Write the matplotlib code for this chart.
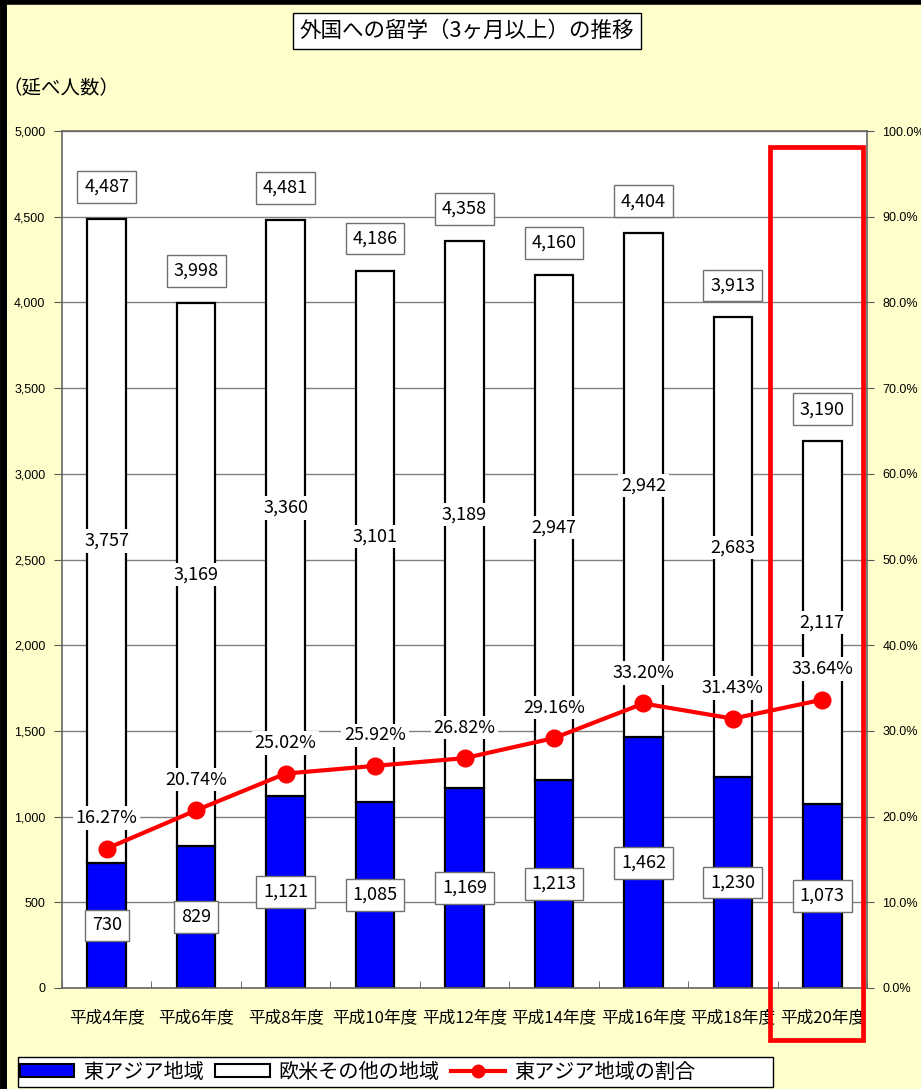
import matplotlib
matplotlib.use("Agg")
import matplotlib.pyplot as plt
import matplotlib.patches as mpatches
import matplotlib.transforms as mtransforms
from matplotlib.lines import Line2D
from matplotlib.ticker import FuncFormatter, MultipleLocator
import numpy as np

plt.rcParams['font.family'] = ['Noto Sans CJK JP', 'DejaVu Sans']

categories = ['平成4年度', '平成6年度', '平成8年度', '平成10年度', '平成12年度',
              '平成14年度', '平成16年度', '平成18年度', '平成20年度']
east_asia = [730, 829, 1121, 1085, 1169, 1213, 1462, 1230, 1073]
others = [3757, 3169, 3360, 3101, 3189, 2947, 2942, 2683, 2117]
totals = [4487, 3998, 4481, 4186, 4358, 4160, 4404, 3913, 3190]
share = [16.27, 20.74, 25.02, 25.92, 26.82, 29.16, 33.20, 31.43, 33.64]

BG = '#FFFFCC'
fig = plt.figure(figsize=(9.21, 10.89), dpi=100, facecolor=BG)
ax = fig.add_axes([62/921, 101/1089, 805/921, 857/1089])
ax.set_facecolor('white')

x = np.arange(len(categories))
bw = 0.43
ax.bar(x, east_asia, bw, color='#0000FF', edgecolor='black', linewidth=1.6, zorder=2)
ax.bar(x, others, bw, bottom=east_asia, color='white', edgecolor='black', linewidth=1.6, zorder=2)

ax.set_xlim(-0.5, len(categories) - 0.5)
ax.set_ylim(0, 5000)
ax.yaxis.set_major_locator(MultipleLocator(500))
ax.yaxis.set_major_formatter(FuncFormatter(lambda v, p: f'{int(v):,}'))
ax.grid(axis='y', color='#808080', linewidth=1.0, zorder=0)
ax.set_axisbelow(True)
ax.set_xticks(x)
ax.set_xticklabels(categories, fontsize=12)
ax.set_xticks(np.arange(len(categories) + 1) - 0.5, minor=True)
ax.tick_params(axis='x', which='major', length=0, pad=15)
ax.tick_params(axis='x', which='minor', direction='in', length=5, color='#555555')
ax.tick_params(axis='y', direction='out', length=6, color='#555555', labelsize=9, pad=6)
for lab in ax.get_yticklabels():
    lab.set_fontfamily(['Liberation Sans', 'DejaVu Sans'])
for s in ax.spines.values():
    s.set_color('#666666')
    s.set_linewidth(1.2)

ax2 = ax.twinx()
ax2.set_ylim(0, 100)
ax2.yaxis.set_major_locator(MultipleLocator(10))
ax2.yaxis.set_major_formatter(FuncFormatter(lambda v, p: f'{v:.1f}%'))
ax2.tick_params(axis='y', direction='out', length=5, color='#555555', labelsize=9, pad=6)
for lab in ax2.get_yticklabels():
    lab.set_fontfamily(['Liberation Sans', 'DejaVu Sans'])
for s in ax2.spines.values():
    s.set_visible(False)
ax2.plot(x, share, color='#FF0000', linewidth=3, marker='o', markersize=12, zorder=5)

box_kw = dict(boxstyle='square,pad=0.38', facecolor='white', edgecolor='#707070', linewidth=1.0)
plain_kw = dict(boxstyle='square,pad=0.15', facecolor='white', edgecolor='none')
vfs = 13
for i in range(len(categories)):
    ax.annotate(f'{totals[i]:,}', (x[i], totals[i]), xytext=(0, 23), textcoords='offset points',
                ha='center', va='center', fontsize=vfs, bbox=box_kw, zorder=6)
    ax.text(x[i], east_asia[i] + others[i] / 2, f'{others[i]:,}', ha='center', va='center',
            fontsize=vfs, bbox=plain_kw, zorder=4)
    ax.text(x[i], east_asia[i] / 2, f'{east_asia[i]:,}', ha='center', va='center',
            fontsize=vfs, bbox=box_kw, zorder=4)
    ax2.annotate(f'{share[i]:.2f}%', (x[i], share[i]), xytext=(0, 22), textcoords='offset points',
                 ha='center', va='center', fontsize=vfs, bbox=plain_kw, zorder=6)

# highlight rectangle around last category
trans = mtransforms.blended_transform_factory(ax.transData, fig.transFigure)
rect = mpatches.Rectangle((len(categories) - 1 - 0.58, 1 - 1040/1089), 1.03, 893/1089,
                          transform=trans, fill=False, edgecolor='#FF0000', linewidth=3.4,
                          clip_on=False, zorder=10)
fig.patches.append(rect)

# title
fig.text(0.507, 1 - 31/1089, '外国への留学（3ヶ月以上）の推移', ha='center', va='center', fontsize=15.5,
         bbox=dict(boxstyle='square,pad=0.33', facecolor='white', edgecolor='black', linewidth=1.0))
fig.text(3/921, 1 - 89/1089, '（延べ人数）', ha='left', va='center', fontsize=14)

# outer border (top and left)
fig.add_artist(Line2D([0, 1], [1 - 2/1089, 1 - 2/1089], transform=fig.transFigure, color='black', linewidth=4))
fig.add_artist(Line2D([3/921, 3/921], [0, 1], transform=fig.transFigure, color='black', linewidth=5))

# legend
fig.patches.append(mpatches.Rectangle((18/921, 2/1089), 755/921, 30/1089, transform=fig.transFigure,
                                      facecolor='white', edgecolor='black', linewidth=1.0, zorder=1))
handles = [mpatches.Patch(facecolor='#0000FF', edgecolor='black', linewidth=1.5),
           mpatches.Patch(facecolor='white', edgecolor='black', linewidth=1.5),
           Line2D([], [], color='#FF0000', linewidth=3, marker='o', markersize=9)]
labels = ['東アジア地域', '欧米その他の地域', '東アジア地域の割合']
leg = fig.legend(handles, labels, loc='center left', bbox_to_anchor=(20/921, 17/1089), ncol=3,
                 fontsize=14.5, frameon=False,
                 handlelength=2.7, handleheight=0.6, handletextpad=0.45, columnspacing=0.55,
                 borderpad=0.0, borderaxespad=0, numpoints=1)
leg.set_zorder(5)

fig.savefig('out.png', dpi=100, facecolor=BG)
